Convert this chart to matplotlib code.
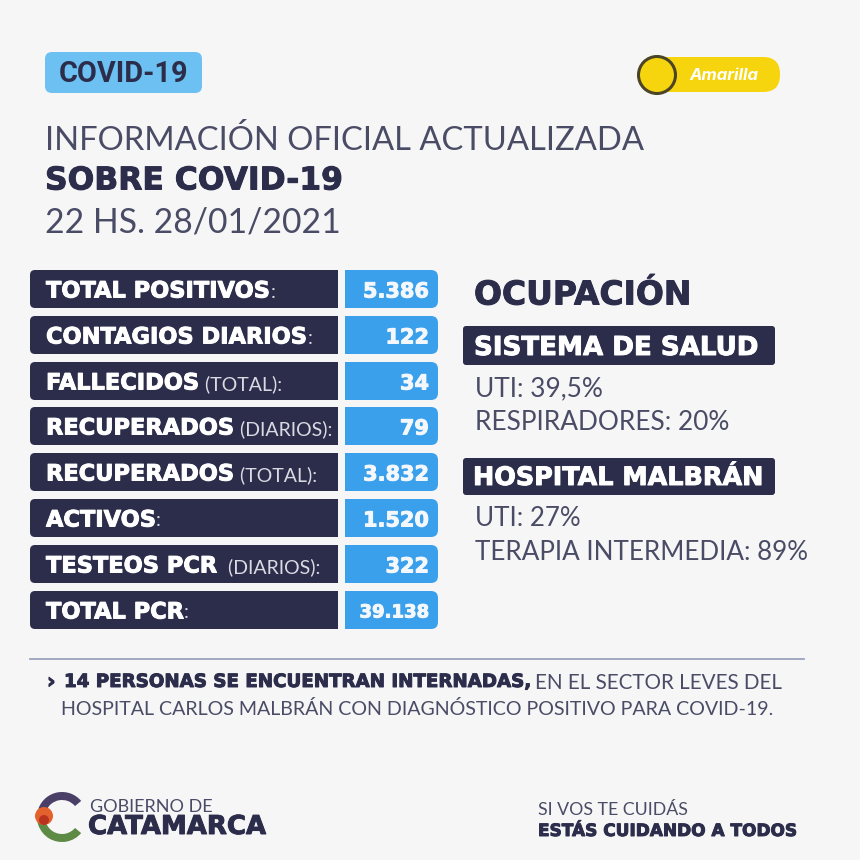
import matplotlib
matplotlib.use("Agg")
import matplotlib.pyplot as plt
import matplotlib.patheffects as pe
from matplotlib.patches import FancyBboxPatch, Circle, Wedge, Rectangle

NAVY = "#2b2d4b"
BLUE = "#3aa0ec"
LIGHTBLUE = "#6cc0f2"
YELLOW = "#f6d40e"
BG = "#f6f6f7"
GREY = "#4a4c66"

row_bold = ["TOTAL POSITIVOS", "CONTAGIOS DIARIOS", "FALLECIDOS", "RECUPERADOS",
            "RECUPERADOS", "ACTIVOS", "TESTEOS PCR", "TOTAL PCR"]
row_light = [":", ":", " (TOTAL):", " (DIARIOS):", " (TOTAL):", ":", "  (DIARIOS):", ":"]
row_values = ["5.386", "122", "34", "79", "3.832", "1.520", "322", "39.138"]
row_tops = [270, 316, 362, 407, 453, 499, 545, 591]

sistema_lines = ["UTI: 39,5%", "RESPIRADORES: 20%"]
hospital_lines = ["UTI: 27%", "TERAPIA INTERMEDIA: 89%"]

fig = plt.figure(figsize=(8.6, 8.6), dpi=100, facecolor=BG)
ax = fig.add_axes([0, 0, 1, 1])
ax.set_xlim(0, 860)
ax.set_ylim(860, 0)
ax.axis("off")

LIGHT = "Lato"
BOLD = "DejaVu Sans"


def rbox(x0, y0, x1, y1, color, r=7, z=2):
    p = FancyBboxPatch((x0 + r, y0 + r), x1 - x0 - 2 * r, y1 - y0 - 2 * r,
                       boxstyle=f"round,pad={r},rounding_size={r}",
                       fc=color, ec="none", zorder=z)
    ax.add_patch(p)


def light(x, y, s, size, color=GREY, **kw):
    return ax.text(x, y + 1, s, family=LIGHT, weight="normal", fontsize=size, color=color,
                   va="center", zorder=5, **kw)


def bold(x, y, s, size, color=NAVY, **kw):
    t = ax.text(x, y + 1, s, family=BOLD, weight="bold", fontsize=size, color=color,
                va="center", zorder=5, **kw)
    t.set_path_effects([pe.withStroke(linewidth=0.7, foreground=color)])
    return t


def after(t):
    fig.canvas.draw()
    bb = t.get_window_extent()
    return bb.x1


# header badge
rbox(45, 52, 202, 93, LIGHTBLUE)
ax.text(123.5, 74, "COVID-19", family="Roboto", weight="bold", fontsize=20.8,
        color=NAVY, ha="center", va="center", zorder=5)

# traffic-light pill
rbox(645, 57, 780, 92, YELLOW, r=17)
ax.add_patch(Circle((657, 75), 18.5, fc=YELLOW, ec="#4b4426", lw=2.2, zorder=4))
ax.text(724, 76, "Amarilla", family="Inter", weight="bold", style="italic",
        fontsize=12, color="white", ha="center", va="center", zorder=5)

# titles
light(45, 139, "INFORMACIÓN OFICIAL ACTUALIZADA", 23.6)
bold(45, 180, "SOBRE COVID-19", 22.6)
light(45, 222, "22 HS. 28/01/2021", 24.3)

# table
ROW_H = 38
for top, b, l, v in zip(row_tops, row_bold, row_light, row_values):
    rbox(30, top, 338, top + ROW_H, NAVY, r=5)
    ax.add_patch(Rectangle((325, top), 13, ROW_H, fc=NAVY, ec="none", zorder=2))
    rbox(345, top, 438, top + ROW_H, BLUE, r=7)
    ax.add_patch(Rectangle((345, top), 10, ROW_H, fc=BLUE, ec="none", zorder=2))
    t = bold(46, top + 20.5, b, 16.2, color="white")
    x1 = after(t)
    light(x1, top + 21, l, 14, color="#d9dae2")
    size = 13 if len(v) > 5 else 15
    bold(429, top + 20.5, v, size, color="#f4f8fc", ha="right")

# right column
bold(474, 294, "OCUPACIÓN", 23.7)
rbox(463, 326, 775, 365, NAVY, r=3)
bold(474, 347, "SISTEMA DE SALUD", 18.8, color="white")
for i, s in enumerate(sistema_lines):
    light(475, 388 + 33 * i, s, 18.9)
rbox(463, 458, 775, 495, NAVY, r=3)
bold(473, 477, "HOSPITAL MALBRÁN", 18.3, color="white")
for i, s in enumerate(hospital_lines):
    light(475, 518 + 33 * i, s, 18.7)

# divider and note
ax.plot([30, 804], [659, 659], color="#9aa4bd", lw=1.3, zorder=3)
bold(47, 681, "›", 15)
t = bold(64, 681, "14 PERSONAS SE ENCUENTRAN INTERNADAS,", 13.15)
light(after(t) + 6, 682, "EN EL SECTOR LEVES DEL", 14.9)
light(61, 708, "HOSPITAL CARLOS MALBRÁN CON DIAGNÓSTICO POSITIVO PARA COVID-19.", 14.15)

# logo
cx, cy = 62, 817
ax.add_patch(Wedge((cx, cy), 25, 40, 200, width=8, fc="#5d8a45", ec="none", zorder=3))
ax.add_patch(Wedge((cx, cy), 25, 200, 320, width=8, fc="#4a3f66", ec="none", zorder=3))
ax.add_patch(Circle((44, 816), 9, fc="#e2612c", ec="none", zorder=4))
ax.add_patch(Circle((44, 820), 5, fc="#b8341f", ec="none", zorder=4))
light(90, 806, "GOBIERNO DE", 13)
bold(88, 826, "CATAMARCA", 18.7)

# slogan
light(538, 809, "SI VOS TE CUIDÁS", 12.8)
bold(538, 830, "ESTÁS CUIDANDO A TODOS", 12.2)

fig.savefig("out.png", dpi=100, facecolor=BG)
